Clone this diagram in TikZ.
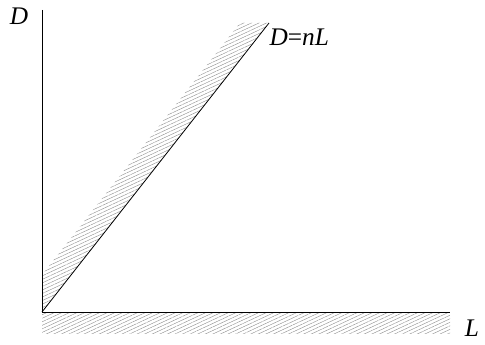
\documentclass[tikz,border=0pt]{standalone}
\usepackage{fontspec}
\setmainfont{Liberation Serif}
\usetikzlibrary{patterns.meta}
\definecolor{HatchGray}{RGB}{140,140,140}
\tikzset{
  hatched/.style={pattern={Lines[angle=25,distance=2.4pt,line width=0.3pt]},
    pattern color=HatchGray},
  axis/.style={line width=0.6pt,black},
  axislabel/.style={font=\fontsize{19}{21}\selectfont\itshape,inner sep=1pt}
}

\begin{document}
\begin{tikzpicture}[x=0.75pt,y=0.75pt]
  \useasboundingbox (0,0) rectangle (485,345);
  \coordinate (O) at (42,33);
  \coordinate (Dtop) at (42,335);
  \coordinate (Lend) at (450,33);
  \coordinate (P) at (269,322);
  % hatched regions
  \fill[hatched] (42,11) rectangle (450,31);
  \fill[hatched] (O) -- (P) -- (240,322) -- (42,70) -- cycle;
  % axes and line
  \draw[axis] (Dtop) -- (O) -- (Lend);
  \draw[axis] (O) -- (P);
  \node[axislabel] (dlab) at (19,329) {D};
  \node[axislabel] (llab) at (472,17) {L};
  \node[axislabel,anchor=west] (nlab) at (268,308) {D{\upshape=}nL};
\end{tikzpicture}
\end{document}
